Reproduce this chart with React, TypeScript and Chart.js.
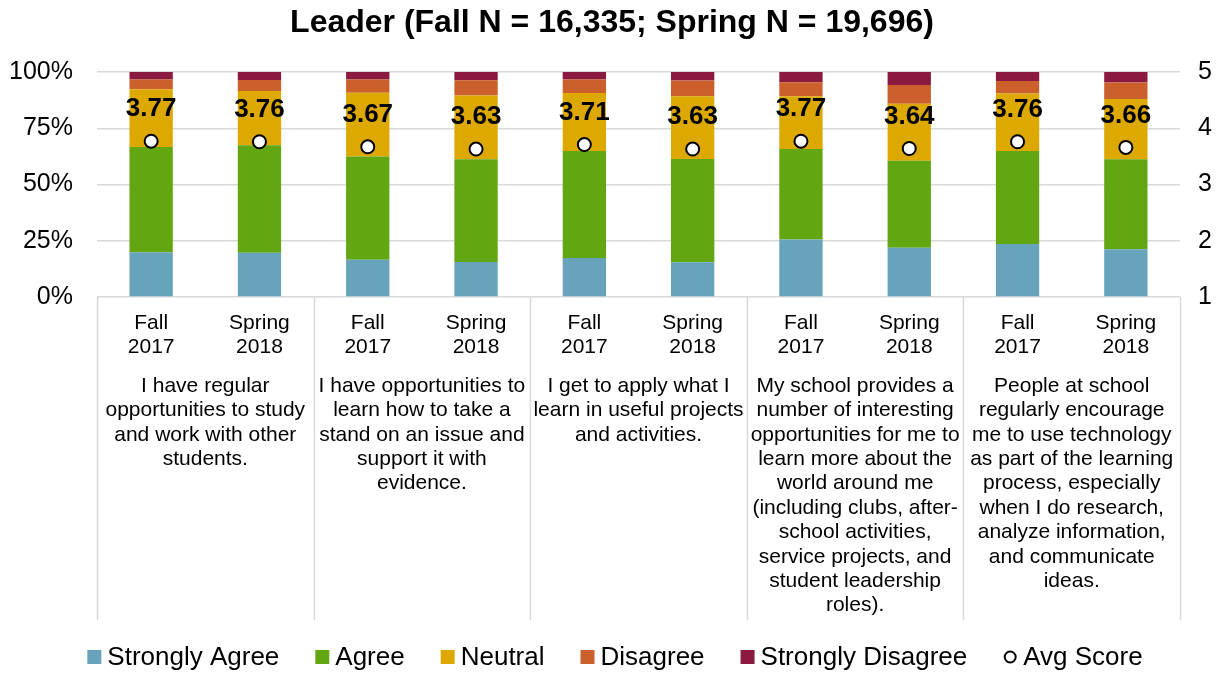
import React, { useEffect, useRef } from "react";
import { Chart, registerables } from "chart.js";

Chart.register(...registerables);

const FONT = "'Liberation Sans', Arial, Helvetica, sans-serif";

const title = "Leader (Fall N = 16,335; Spring N = 19,696)";
const periods = [
  ["Fall", "2017"], ["Spring", "2018"],
  ["Fall", "2017"], ["Spring", "2018"],
  ["Fall", "2017"], ["Spring", "2018"],
  ["Fall", "2017"], ["Spring", "2018"],
  ["Fall", "2017"], ["Spring", "2018"],
];
const groupLabels: string[][] = [
  ["I have regular", "opportunities to study", "and work with other", "students."],
  ["I have opportunities to", "learn how to take a", "stand on an issue and", "support it with", "evidence."],
  ["I get to apply what I", "learn in useful projects", "and activities."],
  ["My school provides a", "number of interesting", "opportunities for me to", "learn more about the", "world around me", "(including clubs, after-", "school activities,", "service projects, and", "student leadership", "roles)."],
  ["People at school", "regularly encourage", "me to use technology", "as part of the learning", "process, especially", "when I do research,", "analyze information,", "and communicate", "ideas."],
];

const stronglyAgree = [19.9, 19.7, 16.6, 15.6, 17.3, 15.4, 25.6, 21.9, 23.6, 21.2];
const agree = [46.8, 47.7, 45.9, 45.6, 47.6, 45.9, 40.2, 38.7, 41.3, 40.0];
const neutral = [25.6, 24.2, 28.3, 28.4, 25.8, 27.9, 23.4, 25.3, 25.6, 26.8];
const disagree = [4.4, 4.8, 5.9, 6.7, 6.0, 7.0, 6.2, 8.3, 5.5, 7.3];
const stronglyDisagree = [3.3, 3.6, 3.3, 3.7, 3.3, 3.8, 4.6, 5.8, 4.0, 4.7];
const avgScore = [3.77, 3.76, 3.67, 3.63, 3.71, 3.63, 3.77, 3.64, 3.76, 3.66];

const leftTicks = [0, 25, 50, 75, 100];
const rightTicks = [1, 2, 3, 4, 5];

const colors = {
  sa: "#67A3BA",
  a: "#62A612",
  n: "#DDA900",
  d: "#CC602D",
  sd: "#8B1A40",
};

const GRID = "#d9d9d9";

const overlayPlugin = {
  id: "overlay",
  afterDraw(chart: any) {
    const ctx = chart.ctx;
    const area = chart.chartArea;
    const xs = chart.scales.x;
    ctx.save();
    // title
    ctx.fillStyle = "#000";
    ctx.font = `bold 32px ${FONT}`;
    ctx.textAlign = "center";
    ctx.textBaseline = "middle";
    ctx.fillText(title, 612, 23);

    // separators
    const colW = (area.right - area.left) / periods.length;
    ctx.strokeStyle = GRID;
    ctx.lineWidth = 1.5;
    for (let g = 0; g <= groupLabels.length; g++) {
      const x = Math.round(area.left + g * colW * 2) + 0.5;
      ctx.beginPath();
      ctx.moveTo(x, area.bottom);
      ctx.lineTo(x, 620);
      ctx.stroke();
    }

    // period labels
    ctx.font = `21px ${FONT}`;
    ctx.fillStyle = "#000";
    periods.forEach((p, i) => {
      const x = xs.getPixelForValue(i);
      ctx.fillText(p[0], x, area.bottom + 26);
      ctx.fillText(p[1], x, area.bottom + 50);
    });
    // group labels
    groupLabels.forEach((lines, g) => {
      const x = area.left + (g * 2 + 1) * colW;
      lines.forEach((ln, k) => {
        ctx.fillText(ln, x, 386 + k * 24.4);
      });
    });

    // avg labels
    const meta = chart.getDatasetMeta(5);
    ctx.font = `bold 26px ${FONT}`;
    meta.data.forEach((pt: any, i: number) => {
      ctx.fillText(avgScore[i].toFixed(2), pt.x, pt.y - 32);
    });

    // legend
    const items = [
      { label: "Strongly Agree", color: colors.sa, type: "box" },
      { label: "Agree", color: colors.a, type: "box" },
      { label: "Neutral", color: colors.n, type: "box" },
      { label: "Disagree", color: colors.d, type: "box" },
      { label: "Strongly Disagree", color: colors.sd, type: "box" },
      { label: "Avg Score", color: "#fff", type: "circle" },
    ];
    ctx.font = `26px ${FONT}`;
    ctx.textAlign = "left";
    const box = 14;
    const gapBoxText = 6;
    const gapItems = 36;
    const widths = items.map((it) => box + gapBoxText + ctx.measureText(it.label).width);
    const total = widths.reduce((a, b) => a + b, 0) + gapItems * (items.length - 1);
    let x = 615 - total / 2;
    const ly = 657;
    items.forEach((it, i) => {
      if (it.type === "box") {
        ctx.fillStyle = it.color;
        ctx.fillRect(x, ly - box / 2, box, box);
      } else {
        ctx.beginPath();
        ctx.arc(x + box / 2, ly, 5.5, 0, Math.PI * 2);
        ctx.fillStyle = "#fff";
        ctx.fill();
        ctx.lineWidth = 2;
        ctx.strokeStyle = "#000";
        ctx.stroke();
      }
      ctx.fillStyle = "#000";
      ctx.fillText(it.label, x + box + gapBoxText, ly + 1);
      x += widths[i] + gapItems;
    });
    ctx.restore();
  },
};

export default function App() {
  const ref = useRef<HTMLCanvasElement>(null);
  useEffect(() => {
    if (!ref.current) return;
    const labels = periods.map((p) => p.join(" "));
    const barBase = {
      type: "bar" as const,
      stack: "s",
      yAxisID: "y",
      barPercentage: 0.8,
      categoryPercentage: 0.5,
      borderWidth: 0,
      order: 2,
    };
    const chart = new Chart(ref.current, {
      type: "bar",
      data: {
        labels,
        datasets: [
          { ...barBase, label: "Strongly Agree", data: stronglyAgree, backgroundColor: colors.sa },
          { ...barBase, label: "Agree", data: agree, backgroundColor: colors.a },
          { ...barBase, label: "Neutral", data: neutral, backgroundColor: colors.n },
          { ...barBase, label: "Disagree", data: disagree, backgroundColor: colors.d },
          { ...barBase, label: "Strongly Disagree", data: stronglyDisagree, backgroundColor: colors.sd },
          {
            type: "line" as const,
            label: "Avg Score",
            data: avgScore,
            yAxisID: "y2",
            showLine: false,
            pointRadius: 6.5,
            pointBorderWidth: 2,
            pointBackgroundColor: "#fff",
            pointBorderColor: "#000",
            borderColor: "#000",
            order: 0,
          } as any,
        ],
      },
      options: {
        responsive: false,
        animation: false,
        layout: { padding: { top: 72, left: 0, right: 0, bottom: 0 } },
        plugins: {
          legend: { display: false },
          title: { display: false },
          tooltip: { enabled: false },
        },
        scales: {
          x: {
            stacked: true,
            grid: { display: false },
            border: { display: false },
            ticks: { display: false },
            afterFit: (s: any) => { s.height = 376; },
          },
          y: {
            stacked: true,
            min: 0,
            max: 100,
            afterBuildTicks: (s: any) => { s.ticks = leftTicks.map((v) => ({ value: v })); },
            ticks: {
              callback: (v: any) => `${v}%`,
              color: "#000",
              font: { family: FONT, size: 25 },
              padding: 24,
            },
            grid: { color: GRID, lineWidth: 1.5, drawTicks: false },
            border: { display: false },
            afterFit: (s: any) => { s.width = 97; },
          },
          y2: {
            position: "right",
            min: 1,
            max: 5,
            afterBuildTicks: (s: any) => { s.ticks = rightTicks.map((v) => ({ value: v })); },
            ticks: {
              color: "#000",
              font: { family: FONT, size: 25 },
              padding: 18,
            },
            grid: { display: false, drawTicks: false },
            border: { display: false },
            afterFit: (s: any) => { s.width = 45; },
          },
        },
      },
      plugins: [overlayPlugin],
    });
    return () => chart.destroy();
  }, []);
  return (
    <div style={{ position: "fixed", left: 0, top: 0, width: 1225, height: 673, background: "#fff" }}>
      <canvas ref={ref} width={1225} height={673} style={{ display: "block" }} />
    </div>
  );
}
